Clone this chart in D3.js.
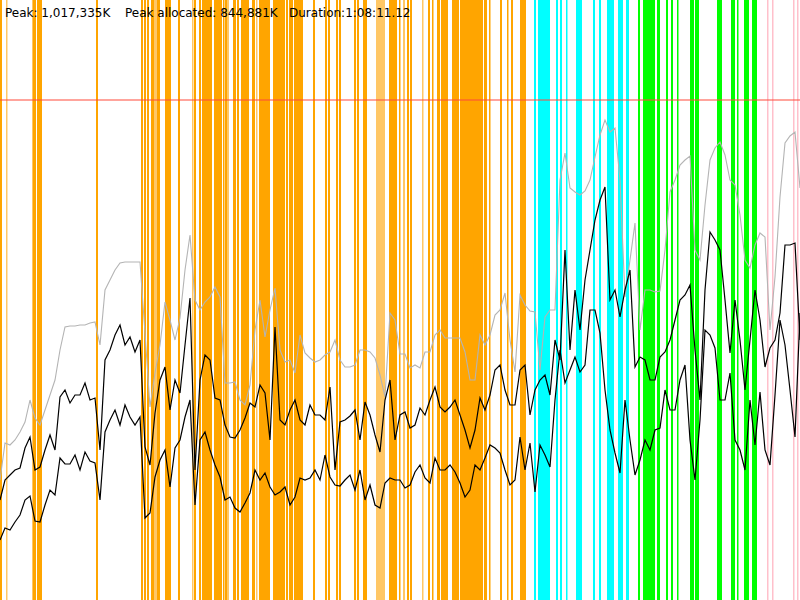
<!DOCTYPE html>
<html>
<head>
<meta charset="utf-8">
<script src="https://cdn.jsdelivr.net/npm/d3@7"></script>
<style>
  body { margin: 0; background: #fff; }
  svg { display: block; }
  .hdr { font-family: "Lucida Grande", "DejaVu Sans", sans-serif; font-size: 12px; fill: #000; }
</style>
</head>
<body>
<svg id="memSvg"></svg>
<script>
// Memory usage over a run, one sample about every 25.6 s (161 samples).
// Values are in MB. Coloured bands are GC pauses, in sample units.

const width = 800;
const height = 600;

// header stats
const peakText = "Peak: 1,017,335K";
const peakAllocText = "Peak allocated: 844,881K";
const durationText = "Duration:1:08:11.12";

// heap limit (red line)
const heapLimit = 1000;

// peak heap size (gray)
const heapPeak = [
  240,314,310,320,336,356,400,364,350,380,
  410,440,500,546,548,548,550,550,554,556,
  510,620,640,660,674,676,676,676,676,534,
  386,454,510,596,560,520,564,660,730,600,
  580,596,606,626,606,434,434,436,400,390,
  430,540,600,526,580,624,500,476,480,454,
  530,494,484,476,480,490,496,520,480,466,
  466,470,500,500,496,484,450,406,574,560,
  492,492,464,470,464,496,496,530,540,524,
  524,524,524,496,440,440,530,510,530,570,
  580,614,520,456,610,590,578,576,460,566,
  580,580,840,894,824,816,810,818,840,886,
  930,960,936,944,840,606,680,754,540,620,
  620,616,618,700,816,840,870,880,888,700,
  680,790,880,904,916,890,840,830,770,680,
  664,710,734,726,540,646,806,914,928,936,
  824
];

// allocated (upper black)
const allocated = [
  200,240,250,260,264,304,326,260,266,300,
  330,300,406,420,394,410,410,434,400,404,
  300,480,500,530,550,510,526,496,520,306,
  270,374,440,466,380,440,414,510,604,260,
  440,490,480,404,400,350,326,324,340,364,
  394,386,430,414,320,546,360,350,380,400,
  360,350,390,370,370,360,426,260,356,360,
  368,380,320,396,370,330,296,400,440,320,
  370,376,344,350,384,370,400,426,386,376,
  386,400,370,340,304,340,404,380,410,460,
  470,420,390,390,460,470,370,420,440,450,
  410,520,480,700,500,620,540,640,700,760,
  800,826,600,620,566,620,660,466,486,480,
  440,440,486,496,520,560,600,610,630,500,
  400,620,736,720,700,600,494,600,520,420,
  520,620,560,466,504,520,574,710,710,714,
  520
];

// live after collection (lower black)
const live = [
  120,144,140,156,170,200,208,158,156,190,
  220,210,284,272,272,290,260,296,278,274,
  200,336,360,380,350,390,366,350,366,164,
  174,246,280,300,226,304,320,366,400,190,
  320,336,300,270,246,200,206,184,176,194,
  214,260,240,254,226,210,216,226,190,206,
  244,240,244,260,240,290,246,230,228,240,
  250,220,260,200,230,190,184,234,244,240,
  240,224,230,256,270,244,234,284,260,260,
  270,256,234,206,220,270,260,284,310,304,
  294,260,230,240,326,260,314,216,310,290,
  266,400,500,434,460,486,456,470,580,580,
  534,420,340,294,254,400,320,250,280,320,
  300,340,344,420,380,380,440,470,320,240,
  360,540,530,504,400,400,454,320,300,260,
  400,310,416,300,270,410,560,510,420,326,
  574
];

// GC pauses: [start, end, kind]
const pauses = [
  [0,0.4,"young"],[1.2,1.4,"youngFaint"],[6.4,6.6,"youngFaint"],[6.6,7.2,"young"],
  [7.4,8.4,"young"],[19.2,19.6,"young"],[28.2,28.6,"young"],[28.8,29.2,"young"],
  [29.4,29.8,"young"],[30.2,30.8,"young"],[30.8,31.4,"youngFaint"],[31.4,32,"young"],
  [33,34.2,"young"],[35.6,36,"young"],[38.4,38.6,"youngFaint"],[38.8,39.2,"young"],
  [39.8,40.2,"young"],[40.4,42.4,"young"],[42.8,44.4,"young"],[44.6,44.8,"young"],
  [45,45.4,"young"],[45.4,45.8,"youngFaint"],[46.6,47.2,"young"],[47.4,47.8,"young"],
  [48.2,49.8,"young"],[50.4,51,"young"],[51.2,51.4,"youngFaint"],[51.8,54,"young"],
  [54.6,57,"young"],[57.2,57.6,"young"],[57.8,58.6,"young"],[58.8,60.6,"young"],
  [62.6,63,"young"],[65,65.4,"young"],[65.6,66,"young"],[67.2,67.6,"young"],
  [67.8,68.2,"young"],[70.8,71.2,"young"],[71.4,71.8,"young"],[72.6,73.4,"young"],
  [75.2,77,"youngFaint"],[77.8,79.4,"young"],[79.8,80,"young"],[80.6,81,"youngFaint"],
  [81.4,81.8,"young"],[82,82.4,"young"],[84.4,84.6,"youngFaint"],[85.6,86,"young"],
  [86.4,86.6,"young"],[87.4,88,"young"],[88.2,88.6,"young"],[88.6,89.6,"young"],
  [90.4,91.8,"young"],[92,95,"young"],[95,96.6,"young"],[96.8,97.4,"young"],
  [97.8,98,"young"],[100,100.4,"young"],[101.4,101.6,"young"],[102.2,102.6,"young"],
  [104,105.2,"young"],
  [106.8,107.2,"remark"],[107.6,110,"remark"],[111.2,111.6,"remark"],[112,112.4,"remark"],
  [113.2,113.4,"remark"],[115.2,116.4,"remark"],[118.6,119,"remark"],[119.8,120.2,"remark"],
  [121.4,122.8,"remark"],[123.6,124.6,"remark"],[125.2,125.8,"remark"],
  [127.6,128,"mixed"],[128.6,130,"mixed"],[130,131,"mixed"],[131.4,132,"mixed"],
  [133.2,133.6,"mixed"],[134.2,134.6,"mixed"],[135.4,135.6,"mixed"],[138,138.8,"mixed"],
  [139,139.8,"mixed"],[143.4,144.4,"mixed"],[146.2,147,"mixed"],[147.4,147.6,"mixed"],
  [148.8,149.8,"mixed"],[150.4,151.4,"mixed"],
  [153.4,153.6,"full"],[154.4,154.6,"full"],[158.6,158.8,"full"],[159.4,159.6,"full"]
];

const pauseColor = {
  young: "#ffa500", youngFaint: "#ffc766",
  remark: "#00ffff", mixed: "#00ff00", full: "#ffc0cb"
};

const svg = d3.select("#memSvg")
  .attr("width", width)
  .attr("height", height);

const x = d3.scaleLinear().domain([0, heapPeak.length - 1]).range([0, width]);
const y = d3.scaleLinear().domain([0, 1200]).range([height, 0]);

// pause bands
svg.append("g").selectAll("rect")
  .data(pauses)
  .enter()
  .append("rect")
  .attr("x", d => x(d[0]))
  .attr("y", 0)
  .attr("width", d => Math.max(1.5, x(d[1]) - x(d[0])))
  .attr("height", height)
  .attr("fill", d => pauseColor[d[2]]);

// heap limit
svg.append("line")
  .attr("x1", 0).attr("x2", width)
  .attr("y1", y(heapLimit)).attr("y2", y(heapLimit))
  .attr("stroke", "#ff4a3a")
  .attr("stroke-width", 1.2);

const line = d3.line()
  .x((d, i) => x(i))
  .y(d => y(d));

svg.append("path")
  .datum(heapPeak)
  .attr("d", line)
  .attr("fill", "none")
  .attr("stroke", "#b4b4b4")
  .attr("stroke-width", 1.1);

[allocated, live].forEach(series => {
  svg.append("path")
    .datum(series)
    .attr("d", line)
    .attr("fill", "none")
    .attr("stroke", "#000")
    .attr("stroke-width", 1.2);
});

// header
const header = [[peakText, 5], [peakAllocText, 125], [durationText, 289]];
svg.selectAll(".hdr")
  .data(header)
  .enter()
  .append("text")
  .attr("class", "hdr")
  .attr("x", d => d[1])
  .attr("y", 17)
  .text(d => d[0]);
</script>
</body>
</html>
